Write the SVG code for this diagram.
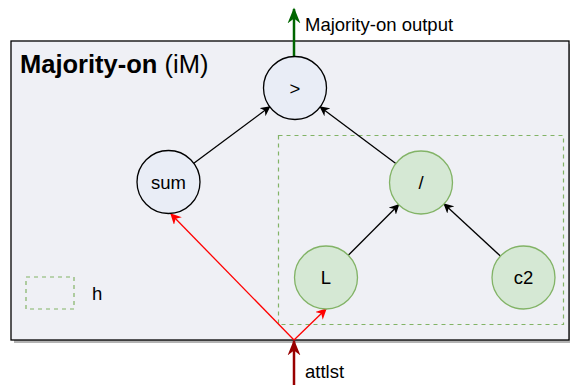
<svg xmlns="http://www.w3.org/2000/svg" width="570" height="385" viewBox="0 0 570 385">
<defs>
<style>
text{font-family:"Liberation Sans",Arial,sans-serif;fill:#000}
.lbl{font-size:18.5px}
.op{fill:#E9EDF6;stroke:#000;stroke-width:1.3}
.gn{fill:#D5E8D4;stroke:#82B366;stroke-width:1.3}
.dash{fill:none;stroke:#82B366;stroke-width:1.2;stroke-dasharray:4 4}
.blk{stroke:#000;stroke-width:1.3;fill:none}
.red{stroke:#FF0000;stroke-width:1.3;fill:none}
</style>
<marker id="ab" viewBox="0 0 10 10" refX="9" refY="5" markerWidth="10" markerHeight="10" markerUnits="userSpaceOnUse" orient="auto"><path d="M0,0 L10,5 L0,10 L3,5 Z" fill="#000"/></marker>
<marker id="ar" viewBox="0 0 10 10" refX="9" refY="5" markerWidth="11" markerHeight="11" markerUnits="userSpaceOnUse" orient="auto"><path d="M0,0 L10,5 L0,10 L3,5 Z" fill="#FF0000"/></marker>
<marker id="ad" viewBox="0 0 10 10" refX="9" refY="5" markerWidth="16" markerHeight="16" markerUnits="userSpaceOnUse" orient="auto"><path d="M0,1 L10,5 L0,9 L3,5 Z" fill="#990000"/></marker>
<marker id="ag" viewBox="0 0 10 10" refX="9" refY="5" markerWidth="16" markerHeight="16" markerUnits="userSpaceOnUse" orient="auto"><path d="M0,1 L10,5 L0,9 L3,5 Z" fill="#006600"/></marker>
</defs>
<g id="container">
<rect x="14" y="44" width="558" height="299" fill="#B3B3B3"/>
<rect x="11" y="41" width="558" height="299" fill="#EFF0F5" stroke="#000" stroke-width="1.3"/>
<text x="20" y="73" font-size="25.5"><tspan font-weight="bold">Majority-on</tspan> (iM)</text>
</g>
<g id="group-h">
<rect x="278.5" y="135.5" width="285" height="189" class="dash"/>
</g>
<g id="legend">
<rect x="26" y="277" width="48" height="32" class="dash"/>
<text x="92" y="300" class="lbl">h</text>
</g>
<g id="connectors">
<line x1="193.8" y1="163.2" x2="269.7" y2="106.8" class="blk" marker-end="url(#ab)"/>
<line x1="395.8" y1="163.6" x2="320.2" y2="106.9" class="blk" marker-end="url(#ab)"/>
<line x1="348.3" y1="255.2" x2="398.7" y2="204.8" class="blk" marker-end="url(#ab)"/>
<line x1="500.4" y1="256.1" x2="444.1" y2="203.9" class="blk" marker-end="url(#ab)"/>
<line x1="294" y1="340" x2="171" y2="214" class="red" marker-end="url(#ar)"/>
<line x1="294" y1="340" x2="326" y2="309" class="red" marker-end="url(#ar)"/>
<line x1="294" y1="385" x2="294" y2="341" stroke="#990000" stroke-width="2.5" marker-end="url(#ad)"/>
<line x1="294" y1="56" x2="294" y2="9" stroke="#006600" stroke-width="2.5" marker-end="url(#ag)"/>
<text x="305" y="31" class="lbl">Majority-on output</text>
<text x="305" y="378" class="lbl">attlst</text>
</g>
<g id="node-gt">
<circle cx="295" cy="88" r="31.5" class="op"/>
<text x="295" y="95" class="lbl" text-anchor="middle">&gt;</text>
</g>
<g id="node-sum">
<circle cx="168.5" cy="182" r="31.5" class="op"/>
<text x="168.5" y="188.5" class="lbl" text-anchor="middle">sum</text>
</g>
<g id="node-div">
<circle cx="421" cy="182.5" r="31.5" class="gn"/>
<text x="421" y="189" class="lbl" text-anchor="middle">/</text>
</g>
<g id="node-L">
<circle cx="326" cy="277.5" r="31.5" class="gn"/>
<text x="326" y="284" class="lbl" text-anchor="middle">L</text>
</g>
<g id="node-c2">
<circle cx="523.5" cy="277.5" r="31.5" class="gn"/>
<text x="523.5" y="284" class="lbl" text-anchor="middle">c2</text>
</g>
</svg>
